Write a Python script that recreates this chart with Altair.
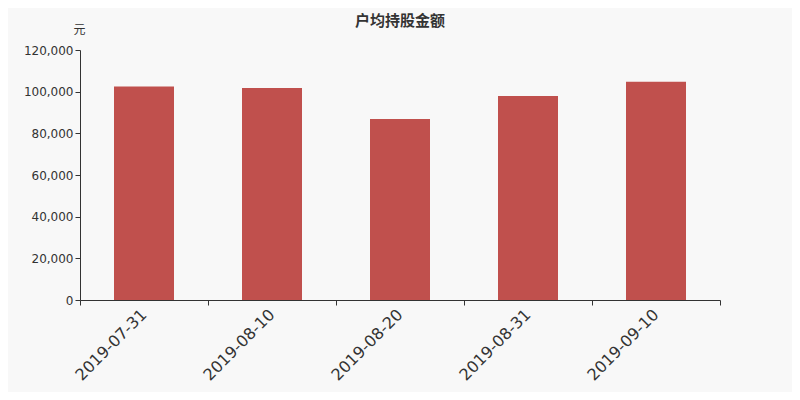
import altair as alt
import pandas as pd

dates = ["2019-07-31", "2019-08-10", "2019-08-20", "2019-08-31", "2019-09-10"]
values = [102500, 101800, 86900, 97900, 104800]

df = pd.DataFrame({"date": dates, "value": values})

bars = alt.Chart(df).mark_bar(color="#c0504d", size=60).encode(
    x=alt.X("date:N", sort=dates, title=None,
            scale=alt.Scale(paddingInner=0, paddingOuter=0),
            axis=alt.Axis(labelAngle=-45, labelFontSize=16, labelColor="#333333",
                          labelFont="DejaVu Sans", tickBand="extent", tickSize=5,
                          domainColor="#333333", tickColor="#333333", labelPadding=1,
                          labelOffset=-6, grid=False)),
    y=alt.Y("value:Q", title="元",
            scale=alt.Scale(domain=[0, 120000]),
            axis=alt.Axis(values=[0, 20000, 40000, 60000, 80000, 100000, 120000],
                          format=",.0f", labelFontSize=12, labelColor="#333333",
                          labelFont="DejaVu Sans", tickSize=5, tickColor="#333333",
                          domainColor="#333333", grid=False,
                          titleAngle=0, titleX=-1, titleY=-21, titleAlign="center",
                          titleBaseline="middle", titleFontSize=12, titleFontWeight="normal",
                          titleFont="Noto Sans CJK SC", titleColor="#333333")),
).properties(
    width=640, height=250,
    title=alt.TitleParams("户均持股金额", font="Noto Sans CJK SC", fontSize=15,
                          fontWeight="bold", color="#333333", anchor="middle", frame="group",
                          offset=-6),
    autosize=alt.AutoSizeParams(type="none"),
    padding={"left": 72, "top": 42, "right": 72, "bottom": 92},
).configure(background="#f8f8f8").configure_view(stroke=None)

chart = bars
chart.save("out.html", embed_options={"renderer": "svg", "actions": False})
